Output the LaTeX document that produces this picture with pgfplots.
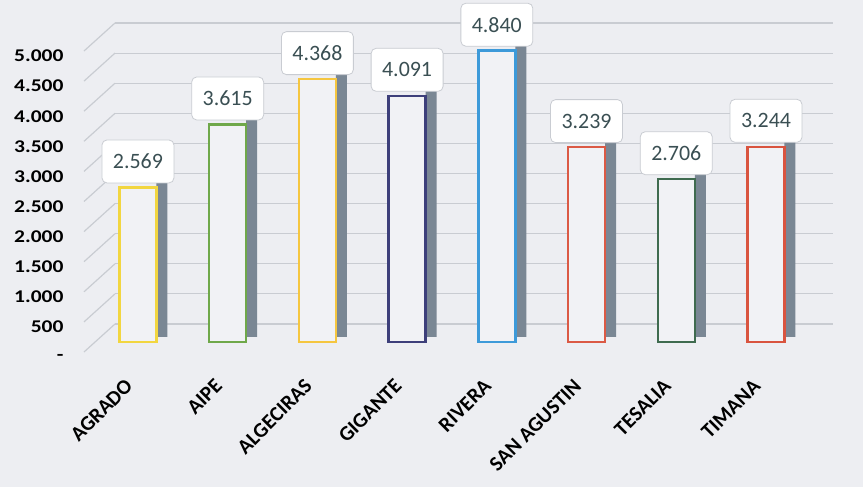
\documentclass[border=0pt]{standalone}
\usepackage{pgfplots}
\pgfplotsset{compat=1.18}
\usepackage{fontspec}
\setmainfont{Carlito}
\newfontfamily\ytickfont[FakeStretch=1.2]{Carlito}
\definecolor{bg}{HTML}{EDEEF2}
\definecolor{gridc}{HTML}{C9CCD2}
\definecolor{frontc}{HTML}{F1F2F5}
\definecolor{sidec}{HTML}{7A8794}
\definecolor{lblc}{HTML}{3A4F53}
\definecolor{cA}{HTML}{F2D640}
\definecolor{cB}{HTML}{6FA84A}
\definecolor{cC}{HTML}{F5C640}
\definecolor{cD}{HTML}{3D3F7A}
\definecolor{cE}{HTML}{3D9AD9}
\definecolor{cF}{HTML}{DB5A45}
\definecolor{cG}{HTML}{3F6B4F}
\definecolor{cH}{HTML}{D9543F}
\pgfplotsset{
  fb/.style={ybar, bar width=37bp, bar shift=0pt, fill=frontc, draw=#1, line width=2.4bp,
    point meta=explicit symbolic, nodes near coords,
    every node near coord/.append style={anchor=south, yshift=4bp, fill=white, draw=gridc, line width=0.8bp,
      rounded corners=5bp, inner xsep=11bp, minimum height=43bp, text=lblc, font=\fontsize{22}{22}\selectfont}},
}
\begin{document}
\begin{tikzpicture}
\useasboundingbox (0,0) rectangle (863bp,487bp);
\fill[bg] (0,0) rectangle (863bp,487bp);
\begin{axis}[
  at={(115bp,145bp)}, anchor=south west,
  scale only axis, width=718bp, height=301bp,
  xmin=-0.256, xmax=7.747, ymin=0, ymax=5000,
  xtick={0,...,7},
  xticklabels={AGRADO,AIPE,ALGECIRAS,GIGANTE,RIVERA,SAN AGUSTIN,TESALIA,TIMANA},
  ytick={0,500,...,5000},
  yticklabels={-,500,1.000,1.500,2.000,2.500,3.000,3.500,4.000,4.500,5.000},
  axis line style={draw=none}, major tick length=0pt,
  yticklabel style={font=\ytickfont\fontsize{18}{18}\bfseries, anchor=east, yshift=-15bp, xshift=-48bp},
  xticklabel style={font=\fontsize{21}{21}\bfseries, xshift=-14bp, yshift=-31bp, rotate=45, anchor=north east},
  clip=false,
]
\pgfplotsinvokeforeach{0,500,...,5000}{
  \draw[gridc, line width=1.2bp] ([yshift=18bp]axis cs:-0.256,#1) -- ([yshift=18bp]axis cs:7.747,#1);
  \draw[gridc, line width=1.2bp] ([xshift=-31bp,yshift=-10bp]axis cs:-0.256,#1) -- ([yshift=18bp]axis cs:-0.256,#1);
}
\addplot[ybar, bar width=11bp, bar shift=24bp, fill=sidec, draw=none, yshift=5bp] coordinates {
  (0,2569) (1,3615) (2,4368) (3,4091) (4,4840) (5,3239) (6,2706) (7,3244)};
\addplot[fb=cA] coordinates {(0,2569) [2.569]};
\addplot[fb=cB] coordinates {(1,3615) [3.615]};
\addplot[fb=cC] coordinates {(2,4368) [4.368]};
\addplot[fb=cD] coordinates {(3,4091) [4.091]};
\addplot[fb=cE] coordinates {(4,4840) [4.840]};
\addplot[fb=cF] coordinates {(5,3239) [3.239]};
\addplot[fb=cG] coordinates {(6,2706) [2.706]};
\addplot[fb=cH] coordinates {(7,3244) [3.244]};
\end{axis}
\end{tikzpicture}
\end{document}
